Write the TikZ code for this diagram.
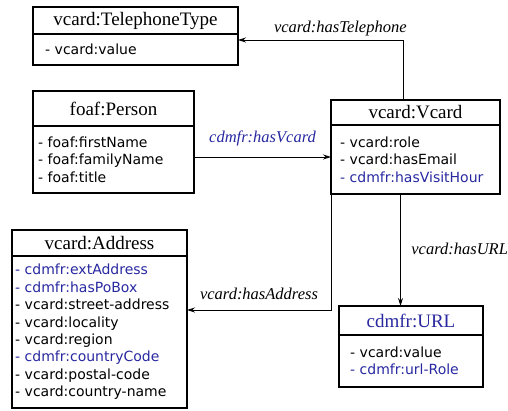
\documentclass[tikz,border=0pt]{standalone}
\usepackage{fontspec}
\setmainfont{Liberation Serif}
\newfontfamily\attrfont{DejaVu Sans}
\usetikzlibrary{positioning}
\usetikzlibrary{arrows.meta}
\definecolor{cdmblue}{RGB}{40,40,160}

\begin{document}
\begin{tikzpicture}[x=1pt,y=-1pt]
\useasboundingbox (0,0) rectangle (508,411);
\begin{scope}[every node/.style={draw,line width=1.5pt,outer sep=0pt},
              head/.style={inner sep=0pt,anchor=north west,font=\fontsize{19pt}{22pt}\selectfont},
              attrs/.style={inner ysep=0pt,align=left,font=\attrfont\fontsize{14pt}{17.4pt}\selectfont}]
    \node [head,minimum width=205pt,minimum height=27pt] (tel) at (33,7) {vcard:TelephoneType};
    \node [attrs,below=0pt of tel,text width=181pt,inner xsep=12pt,minimum height=31pt] (telattr)
        {- vcard:value};
    \node [head,minimum width=161pt,minimum height=35pt] (person) at (33,91) {foaf:Person};
    \node [attrs,below=0pt of person,text width=151pt,inner xsep=5pt,minimum height=67pt] (personattr)
        {- foaf:firstName\\- foaf:familyName\\- foaf:title};
    \node [head,minimum width=169pt,minimum height=25pt] (vc) at (331,100) {vcard:Vcard};
    \node [attrs,below=0pt of vc,text width=151pt,inner xsep=9pt,minimum height=69pt] (vcattr)
        {- vcard:role\\- vcard:hasEmail\\\textcolor{cdmblue}{- cdmfr:hasVisitHour}};
    \node [head,minimum width=175pt,minimum height=26pt] (addr) at (12,230) {vcard:Address};
    \node [attrs,below=0pt of addr,text width=169pt,inner xsep=3pt,minimum height=152pt] (addrattr)
        {\textcolor{cdmblue}{- cdmfr:extAddress}\\\textcolor{cdmblue}{- cdmfr:hasPoBox}\\
         - vcard:street-address\\- vcard:locality\\- vcard:region\\
         \textcolor{cdmblue}{- cdmfr:countryCode}\\- vcard:postal-code\\- vcard:country-name};
    \node [head,minimum width=144pt,minimum height=29pt,text=cdmblue] (url) at (339,306) {cdmfr:URL};
    \node [attrs,below=0pt of url,text width=122pt,inner xsep=11pt,minimum height=52pt] (urlattr)
        {- vcard:value\\\textcolor{cdmblue}{- cdmfr:url-Role}};
\end{scope}
\begin{scope}[>={Stealth[length=8pt,width=5pt]},
              every node/.style={inner sep=3.5pt,font=\itshape\fontsize{16.5pt}{19pt}\selectfont},
              link/.style={draw=black,line width=0.8pt}]
    \draw [->,link] ([xshift=-12.5pt]vc.north) |- node [above,pos=0.69] {vcard:hasTelephone}
        ([yshift=-6pt]telattr.north east);
    \path [->] ([yshift=2.5pt]personattr.east) edge [link]
        node [above,yshift=7pt,text=cdmblue] {cdmfr:hasVcard} ([yshift=2.5pt]vcattr.west);
    \draw [->,link] (vcattr.south west) |- node [above,pos=0.75,yshift=6pt] {vcard:hasAddress}
        ([yshift=-54pt]addrattr.north east);
    \path [->] ([xshift=-15pt]vcattr.south) edge [link]
        node [right,pos=0.49,xshift=7pt] {vcard:hasURL} ([xshift=-10.5pt]url.north);
\end{scope}
\end{tikzpicture}
\end{document}
